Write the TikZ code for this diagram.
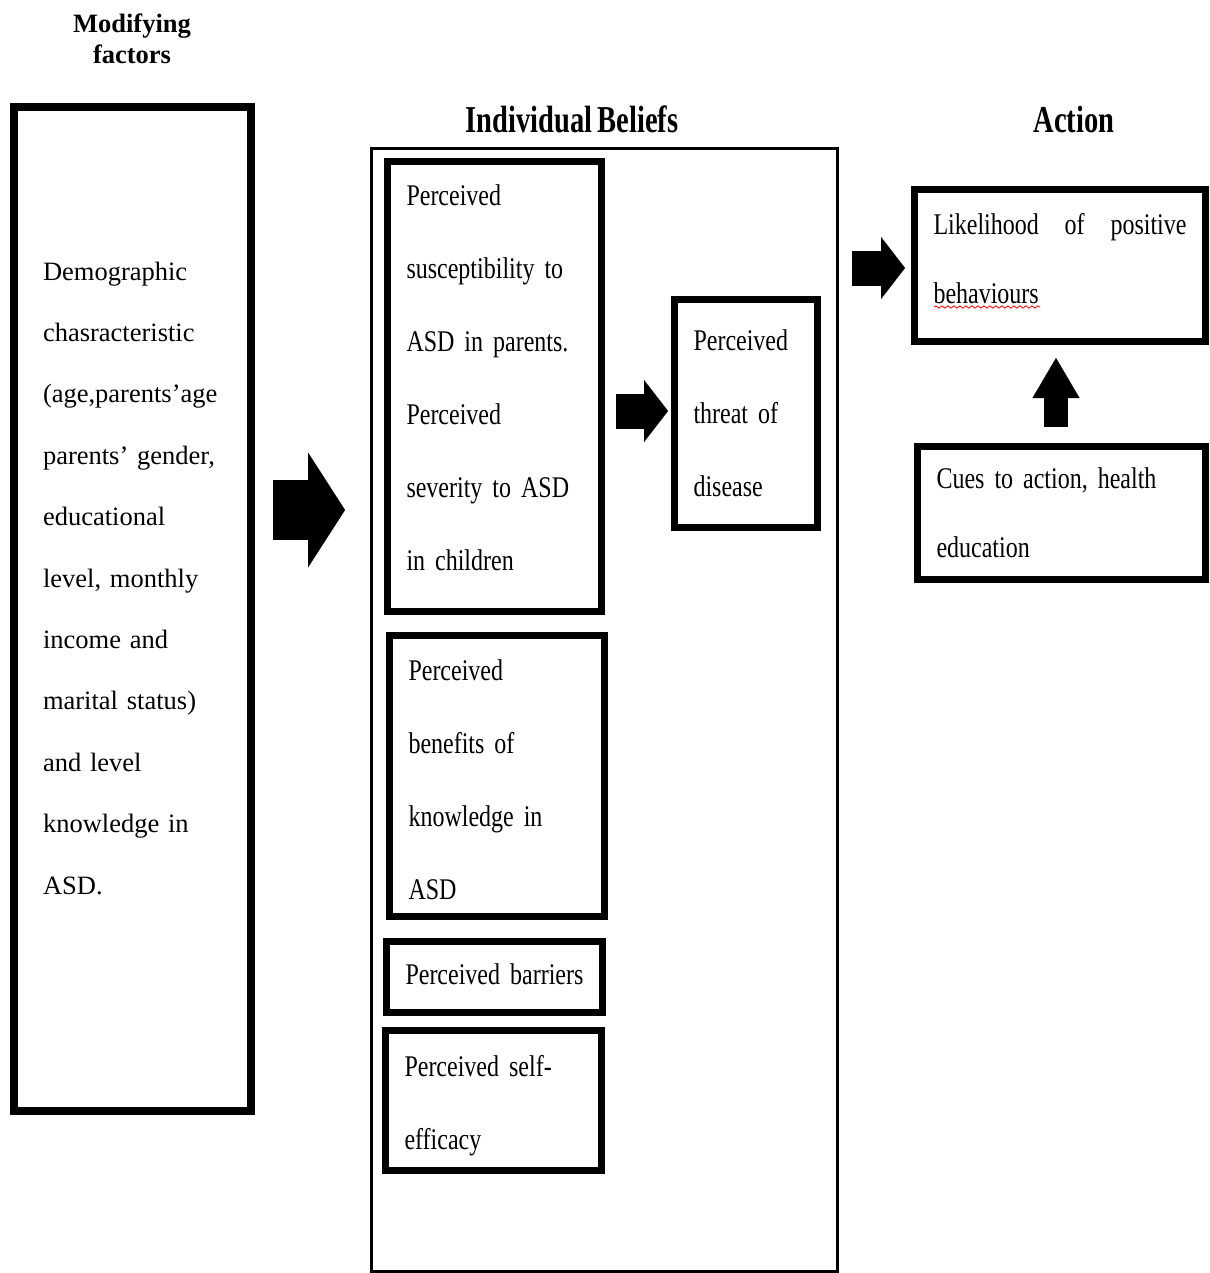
\documentclass[tikz,border=0pt]{standalone}
\usepackage{fontspec}
\setmainfont{Liberation Serif}
\newfontfamily\narrowserif[FakeStretch=0.8, WordSpace=0.8]{Liberation Serif}
\newfontfamily\headserif[FakeStretch=0.75, WordSpace=0.75]{Liberation Serif}
\usetikzlibrary{arrows.meta}
\usetikzlibrary{calc}
\usetikzlibrary{decorations.pathmorphing}

\tikzset{
  sidehead/.style={font=\bfseries\fontsize{13.25}{15.5}\selectfont, align=center, inner sep=0pt},
  colhead/.style={font=\headserif\bfseries\fontsize{19}{22}\selectfont, inner sep=0pt, anchor=base},
  modbox/.style={draw, line width=4pt, outer sep=0pt, inner xsep=14.5pt, inner ysep=0pt,
    anchor=north west, align=left, font=\fontsize{13.25}{30.7}\selectfont},
  framebox/.style={draw, line width=1.5pt, outer sep=0pt, inner sep=0pt, anchor=north west},
  beliefbox/.style={draw, line width=3.5pt, outer sep=0pt, inner xsep=9.5pt, inner ysep=0pt,
    anchor=north west, align=left, font=\narrowserif\fontsize{15}{36.5}\selectfont},
  bigarrow/.style={line width=30pt, -{Triangle[length=18.5pt, width=57.5pt, line width=0.01pt]}},
  smallarrow/.style={line width=17.5pt, -{Triangle[length=12pt, width=31pt, line width=0.01pt]}},
  uparrow/.style={line width=12pt, -{Triangle[length=20pt, width=23.5pt, line width=0.01pt]}}
}

\begin{document}
\begin{tikzpicture}[x=0.5pt, y=-0.5pt]
  \useasboundingbox (0,0) rectangle (1209,1273);

  % headings
  \node[sidehead] (modhead) at (132,38.5) {Modifying\\factors};
  \node[colhead] (belhead) at (572,133) {Individual Beliefs};
  \node[colhead] (acthead) at (1074,133) {Action};

  % modifying factors
  \node[modbox, minimum width=118.5pt, minimum height=502pt, text width=89.5pt, text depth=338pt]
    (mod) at (14,107) {Demographic\\chasracteristic\\(age,parents’age\\parents’ gender,\\educational\\level, monthly\\income and\\marital status)\\and level\\knowledge in\\ASD.};

  % individual beliefs
  \node[framebox, minimum width=233pt, minimum height=561.5pt] (beliefs) at (371.5,148.5) {};
  \node[beliefbox, minimum width=107pt, minimum height=225pt, text width=88pt, text depth=191pt]
    (susc) at (387.5,161.5)
    {Perceived\\susceptibility to\\ASD in parents.\\Perceived\\severity to ASD\\in children};
  \node[beliefbox, minimum width=71.5pt, minimum height=114pt, text width=52.5pt] (threat) at (674.5,299.5)
    {Perceived\\threat of\\disease};
  \node[beliefbox, minimum width=107.5pt, minimum height=140.5pt, text width=88.5pt, text depth=105.5pt]
    (benef) at (389.5,635.5)
    {Perceived\\benefits of\\knowledge in\\ASD};
  \node[beliefbox, minimum width=108pt, minimum height=35.5pt, text width=89pt, text depth=3pt]
    (barr) at (386.5,941.5)
    {Perceived barriers};
  \node[beliefbox, minimum width=108pt, minimum height=70pt, text width=89pt, text depth=34.5pt]
    (self) at (385.5,1030.5)
    {Perceived self-\\efficacy};

  % action
  \node[beliefbox, minimum width=145.5pt, minimum height=76pt, text width=126.5pt, text depth=41.5pt,
    font=\narrowserif\fontsize{15}{34.5}\selectfont] (like) at (914.5,189.5)
    {Likelihood\hfill of\hfill positive\\behaviours};
  \node[beliefbox, minimum width=144pt, minimum height=66.5pt, text width=125pt,
    font=\narrowserif\fontsize{15}{34.5}\selectfont] (cues) at (917.5,446.5)
    {Cues to action, health\\education};
  \draw[red, line width=0.4pt, decorate, decoration={snake, amplitude=0.6pt, segment length=3pt}]
    ($(like.south west)+(19.5,-34.5)$) -- ++(106,0);

  % arrows
  \draw[bigarrow] ($(mod.east)+(22,-99)$) -- ++(72,0);
  \draw[smallarrow] ($(susc.east)+(14.5,24.5)$) -- ($(threat.west)+(-6.5,-2.5)$);
  \draw[smallarrow] ($(like.west)+(-62.5,2.5)$) -- ($(like.west)+(-9.5,2.5)$);
  \draw[uparrow] ($(cues.north)+(-5.5,-19.5)$) -- ($(like.south)+(-4,16.5)$);

\end{tikzpicture}
\end{document}
